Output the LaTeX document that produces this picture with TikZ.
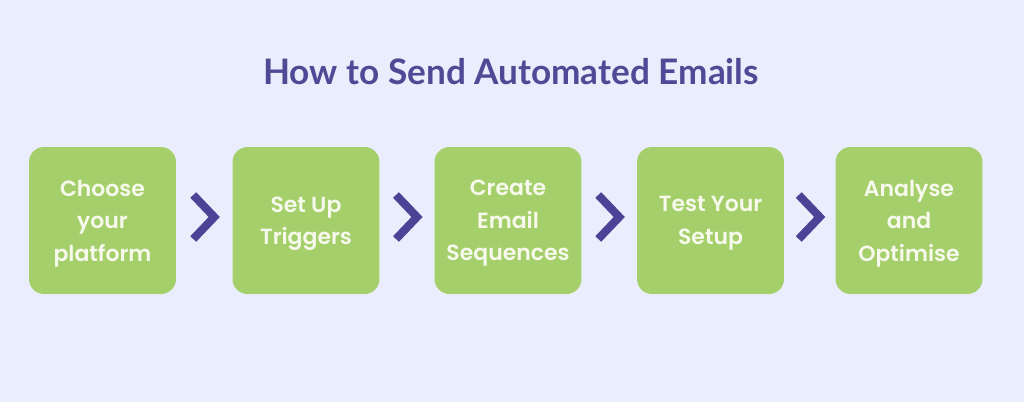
\documentclass[tikz,border=0pt]{standalone}
\usepackage{fontspec}
\setmainfont{Lato}
\newfontfamily\stepfont{Poppins}[BoldFont={Poppins SemiBold}]
\usetikzlibrary{calc}
\definecolor{bgcol}{RGB}{234,238,252}
\definecolor{stepgreen}{RGB}{165,207,106}
\definecolor{titlepurple}{RGB}{80,74,150}
\definecolor{chevpurple}{RGB}{76,66,150}
\definecolor{steptext}{RGB}{246,249,236}
\begin{document}
\begin{tikzpicture}[x=0.02cm,y=-0.02cm,
  stepbox/.style={fill=stepgreen, rounded corners=0.3cm, minimum width=2.94cm, minimum height=2.94cm,
    align=center, text=steptext, font=\stepfont\bfseries\fontsize{12.5}{18.5}\selectfont, inner sep=0pt,
    text depth=-1pt},
  chevron/.style={draw=chevpurple, line width=4.6pt, line join=miter}]
\fill[bgcol] (0,0) rectangle (1024,402);
\useasboundingbox (0,0) rectangle (1024,402);
\node[text=titlepurple, font=\bfseries\fontsize{20}{24}\selectfont] (title) at (511,72) {How to Send Automated Emails};
\node[stepbox] (s1) at (102.5,220.5) {Choose\\ your\\ platform};
\node[stepbox] (s2) at (306,220.5) {Set Up\\ Triggers};
\node[stepbox] (s3) at (508,220.5) {Create\\ Email\\ Sequences};
\node[stepbox] (s4) at (710.5,220.5) {Test Your\\ Setup};
\node[stepbox] (s5) at (909,220.5) {Analyse\\ and\\ Optimise};
% chevrons between the steps
\foreach \a/\b in {s1/s2, s2/s3, s3/s4, s4/s5} {
  \coordinate (m) at ($(\a.east)!0.5!(\b.west)+(0,-3.5)$);
  \draw[chevron] ($(m)+(-11,-22)$) -- ($(m)+(10,0)$) -- ($(m)+(-11,22)$);
}
\end{tikzpicture}
\end{document}
